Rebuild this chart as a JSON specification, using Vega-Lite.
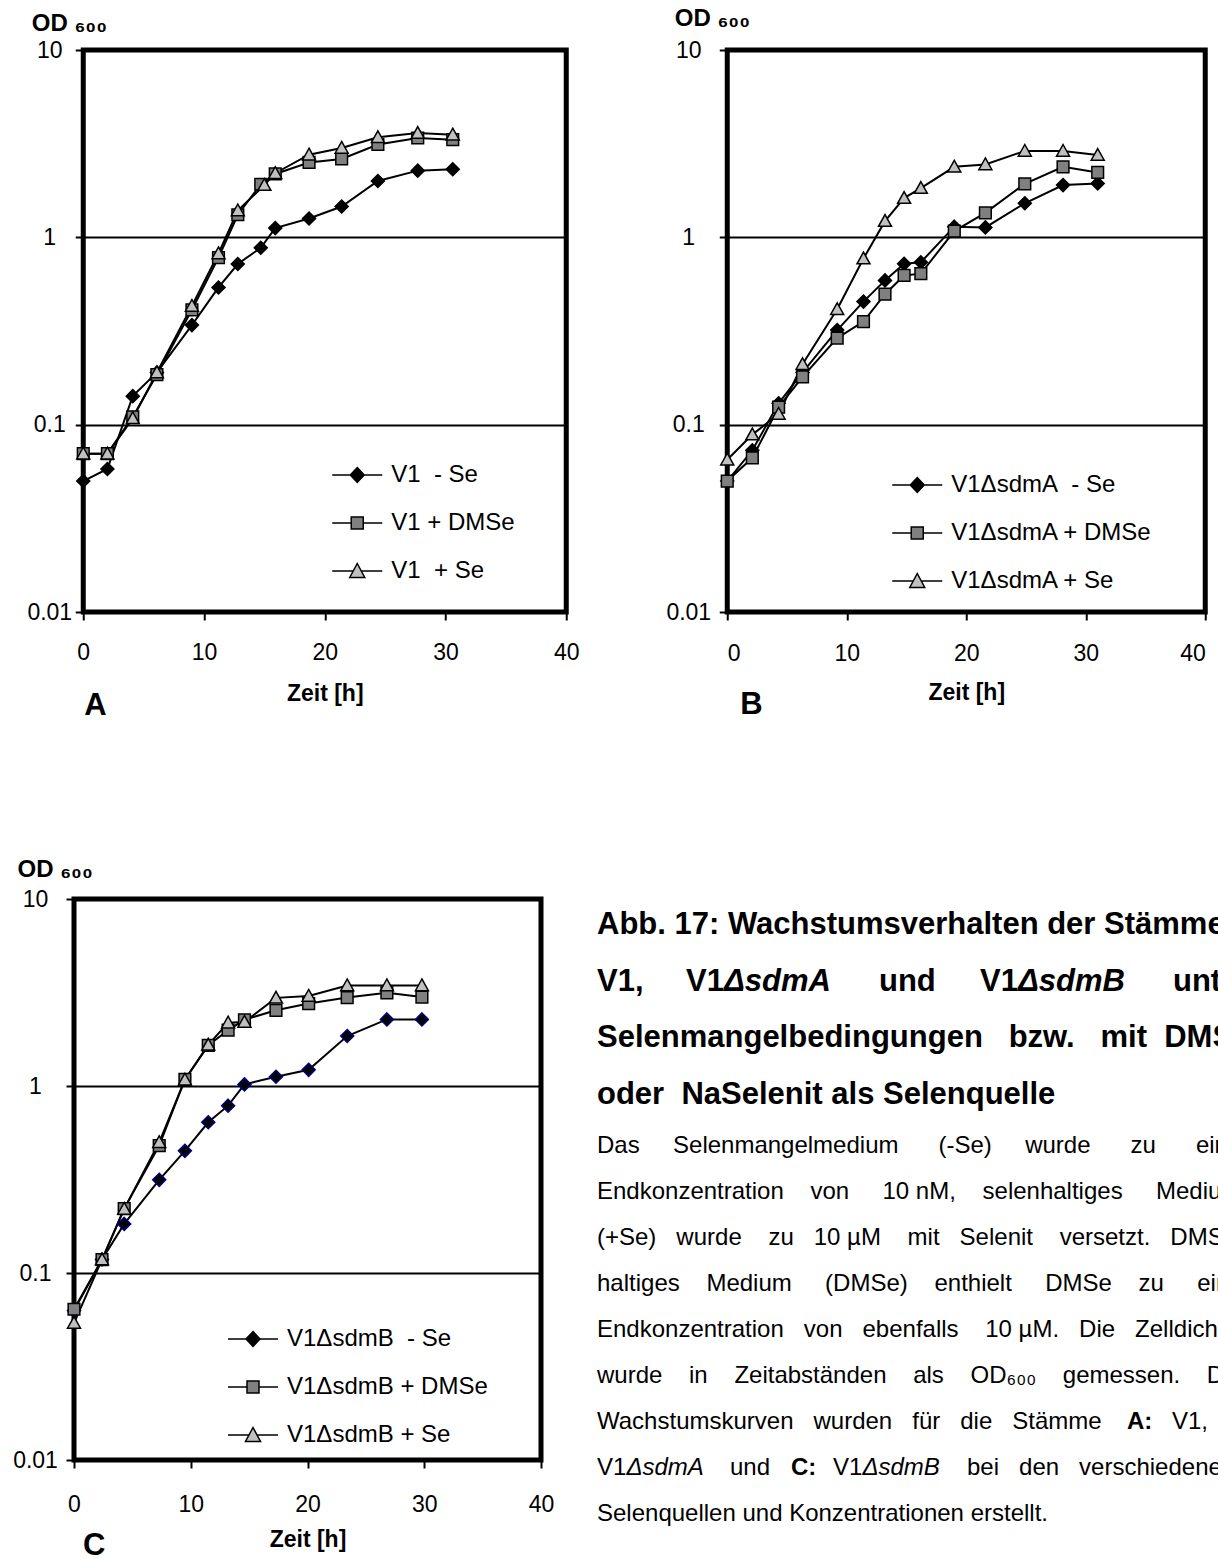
{
  "$schema": "https://vega.github.io/schema/vega-lite/v6.json",
  "background": "white",
  "padding": {"left": 10, "top": 3, "right": 0, "bottom": 0},
  "config": {
    "font": "Liberation Sans",
    "view": {"stroke": null},
    "axis": {"labelFont": "Liberation Sans", "labelColor": "black", "titleFont": "Liberation Sans", "titleColor": "black", "tickColor": "black", "tickWidth": 2, "domain": false, "labelFlush": false},
    "legend": {"labelFont": "Liberation Sans", "labelColor": "black", "direction": "vertical", "title": null, "labelFontSize": 24, "labelLimit": 400, "labelOffset": 8, "symbolSize": 2500, "rowPadding": 10, "padding": 0}
  },
  "datasets": {
    "A": [
      {"t": 0, "od": 0.05, "s": "V1\u00a0 - Se"}, {"t": 2, "od": 0.058, "s": "V1\u00a0 - Se"}, {"t": 4.1, "od": 0.142, "s": "V1\u00a0 - Se"}, {"t": 6.1, "od": 0.19, "s": "V1\u00a0 - Se"}, {"t": 9, "od": 0.34, "s": "V1\u00a0 - Se"}, {"t": 11.2, "od": 0.54, "s": "V1\u00a0 - Se"}, {"t": 12.8, "od": 0.72, "s": "V1\u00a0 - Se"}, {"t": 14.7, "od": 0.88, "s": "V1\u00a0 - Se"}, {"t": 15.9, "od": 1.12, "s": "V1\u00a0 - Se"}, {"t": 18.7, "od": 1.26, "s": "V1\u00a0 - Se"}, {"t": 21.4, "od": 1.46, "s": "V1\u00a0 - Se"}, {"t": 24.4, "od": 2.0, "s": "V1\u00a0 - Se"}, {"t": 27.7, "od": 2.27, "s": "V1\u00a0 - Se"}, {"t": 30.6, "od": 2.31, "s": "V1\u00a0 - Se"},
      {"t": 0, "od": 0.07, "s": "V1 + DMSe"}, {"t": 2, "od": 0.07, "s": "V1 + DMSe"}, {"t": 4.1, "od": 0.11, "s": "V1 + DMSe"}, {"t": 6.1, "od": 0.185, "s": "V1 + DMSe"}, {"t": 9, "od": 0.41, "s": "V1 + DMSe"}, {"t": 11.2, "od": 0.78, "s": "V1 + DMSe"}, {"t": 12.8, "od": 1.32, "s": "V1 + DMSe"}, {"t": 14.7, "od": 1.92, "s": "V1 + DMSe"}, {"t": 15.9, "od": 2.18, "s": "V1 + DMSe"}, {"t": 18.7, "od": 2.51, "s": "V1 + DMSe"}, {"t": 21.4, "od": 2.62, "s": "V1 + DMSe"}, {"t": 24.4, "od": 3.13, "s": "V1 + DMSe"}, {"t": 27.7, "od": 3.39, "s": "V1 + DMSe"}, {"t": 30.6, "od": 3.32, "s": "V1 + DMSe"},
      {"t": 0, "od": 0.07, "s": "V1\u00a0 + Se"}, {"t": 2, "od": 0.07, "s": "V1\u00a0 + Se"}, {"t": 4.1, "od": 0.108, "s": "V1\u00a0 + Se"}, {"t": 6.1, "od": 0.19, "s": "V1\u00a0 + Se"}, {"t": 9, "od": 0.43, "s": "V1\u00a0 + Se"}, {"t": 11.2, "od": 0.82, "s": "V1\u00a0 + Se"}, {"t": 12.8, "od": 1.39, "s": "V1\u00a0 + Se"}, {"t": 15.0, "od": 1.9, "s": "V1\u00a0 + Se"}, {"t": 15.9, "od": 2.2, "s": "V1\u00a0 + Se"}, {"t": 18.7, "od": 2.76, "s": "V1\u00a0 + Se"}, {"t": 21.4, "od": 3.0, "s": "V1\u00a0 + Se"}, {"t": 24.4, "od": 3.42, "s": "V1\u00a0 + Se"}, {"t": 27.7, "od": 3.6, "s": "V1\u00a0 + Se"}, {"t": 30.6, "od": 3.53, "s": "V1\u00a0 + Se"}
    ],
    "B": [
      {"t": 0, "od": 0.05, "s": "V1ΔsdmA\u00a0 - Se"}, {"t": 2.1, "od": 0.073, "s": "V1ΔsdmA\u00a0 - Se"}, {"t": 4.3, "od": 0.13, "s": "V1ΔsdmA\u00a0 - Se"}, {"t": 6.3, "od": 0.19, "s": "V1ΔsdmA\u00a0 - Se"}, {"t": 9.2, "od": 0.32, "s": "V1ΔsdmA\u00a0 - Se"}, {"t": 11.4, "od": 0.454, "s": "V1ΔsdmA\u00a0 - Se"}, {"t": 13.2, "od": 0.589, "s": "V1ΔsdmA\u00a0 - Se"}, {"t": 14.8, "od": 0.722, "s": "V1ΔsdmA\u00a0 - Se"}, {"t": 16.2, "od": 0.736, "s": "V1ΔsdmA\u00a0 - Se"}, {"t": 19.0, "od": 1.14, "s": "V1ΔsdmA\u00a0 - Se"}, {"t": 21.6, "od": 1.13, "s": "V1ΔsdmA\u00a0 - Se"}, {"t": 24.9, "od": 1.52, "s": "V1ΔsdmA\u00a0 - Se"}, {"t": 28.1, "od": 1.9, "s": "V1ΔsdmA\u00a0 - Se"}, {"t": 31.0, "od": 1.94, "s": "V1ΔsdmA\u00a0 - Se"},
      {"t": 0, "od": 0.05, "s": "V1ΔsdmA + DMSe"}, {"t": 2.1, "od": 0.0665, "s": "V1ΔsdmA + DMSe"}, {"t": 4.3, "od": 0.124, "s": "V1ΔsdmA + DMSe"}, {"t": 6.3, "od": 0.18, "s": "V1ΔsdmA + DMSe"}, {"t": 9.2, "od": 0.29, "s": "V1ΔsdmA + DMSe"}, {"t": 11.4, "od": 0.355, "s": "V1ΔsdmA + DMSe"}, {"t": 13.2, "od": 0.497, "s": "V1ΔsdmA + DMSe"}, {"t": 14.8, "od": 0.626, "s": "V1ΔsdmA + DMSe"}, {"t": 16.2, "od": 0.64, "s": "V1ΔsdmA + DMSe"}, {"t": 19.0, "od": 1.08, "s": "V1ΔsdmA + DMSe"}, {"t": 21.6, "od": 1.35, "s": "V1ΔsdmA + DMSe"}, {"t": 24.9, "od": 1.93, "s": "V1ΔsdmA + DMSe"}, {"t": 28.1, "od": 2.38, "s": "V1ΔsdmA + DMSe"}, {"t": 31.0, "od": 2.22, "s": "V1ΔsdmA + DMSe"},
      {"t": 0, "od": 0.065, "s": "V1ΔsdmA + Se"}, {"t": 2.1, "od": 0.0885, "s": "V1ΔsdmA + Se"}, {"t": 4.3, "od": 0.114, "s": "V1ΔsdmA + Se"}, {"t": 6.3, "od": 0.21, "s": "V1ΔsdmA + Se"}, {"t": 9.2, "od": 0.413, "s": "V1ΔsdmA + Se"}, {"t": 11.4, "od": 0.77, "s": "V1ΔsdmA + Se"}, {"t": 13.2, "od": 1.22, "s": "V1ΔsdmA + Se"}, {"t": 14.8, "od": 1.62, "s": "V1ΔsdmA + Se"}, {"t": 16.2, "od": 1.83, "s": "V1ΔsdmA + Se"}, {"t": 19.0, "od": 2.38, "s": "V1ΔsdmA + Se"}, {"t": 21.6, "od": 2.45, "s": "V1ΔsdmA + Se"}, {"t": 24.9, "od": 2.89, "s": "V1ΔsdmA + Se"}, {"t": 28.1, "od": 2.89, "s": "V1ΔsdmA + Se"}, {"t": 31.0, "od": 2.75, "s": "V1ΔsdmA + Se"}
    ],
    "C": [
      {"t": 0, "od": 0.063, "s": "V1ΔsdmB\u00a0 - Se"}, {"t": 2.4, "od": 0.118, "s": "V1ΔsdmB\u00a0 - Se"}, {"t": 4.3, "od": 0.183, "s": "V1ΔsdmB\u00a0 - Se"}, {"t": 7.3, "od": 0.315, "s": "V1ΔsdmB\u00a0 - Se"}, {"t": 9.5, "od": 0.45, "s": "V1ΔsdmB\u00a0 - Se"}, {"t": 11.5, "od": 0.64, "s": "V1ΔsdmB\u00a0 - Se"}, {"t": 13.2, "od": 0.785, "s": "V1ΔsdmB\u00a0 - Se"}, {"t": 14.6, "od": 1.02, "s": "V1ΔsdmB\u00a0 - Se"}, {"t": 17.3, "od": 1.12, "s": "V1ΔsdmB\u00a0 - Se"}, {"t": 20.1, "od": 1.22, "s": "V1ΔsdmB\u00a0 - Se"}, {"t": 23.4, "od": 1.85, "s": "V1ΔsdmB\u00a0 - Se"}, {"t": 26.8, "od": 2.27, "s": "V1ΔsdmB\u00a0 - Se"}, {"t": 29.8, "od": 2.27, "s": "V1ΔsdmB\u00a0 - Se"},
      {"t": 0, "od": 0.064, "s": "V1ΔsdmB + DMSe"}, {"t": 2.4, "od": 0.118, "s": "V1ΔsdmB + DMSe"}, {"t": 4.3, "od": 0.221, "s": "V1ΔsdmB + DMSe"}, {"t": 7.3, "od": 0.48, "s": "V1ΔsdmB + DMSe"}, {"t": 9.5, "od": 1.085, "s": "V1ΔsdmB + DMSe"}, {"t": 11.5, "od": 1.65, "s": "V1ΔsdmB + DMSe"}, {"t": 13.2, "od": 1.99, "s": "V1ΔsdmB + DMSe"}, {"t": 14.6, "od": 2.26, "s": "V1ΔsdmB + DMSe"}, {"t": 17.3, "od": 2.54, "s": "V1ΔsdmB + DMSe"}, {"t": 20.1, "od": 2.76, "s": "V1ΔsdmB + DMSe"}, {"t": 23.4, "od": 2.97, "s": "V1ΔsdmB + DMSe"}, {"t": 26.8, "od": 3.15, "s": "V1ΔsdmB + DMSe"}, {"t": 29.8, "od": 2.99, "s": "V1ΔsdmB + DMSe"},
      {"t": 0, "od": 0.054, "s": "V1ΔsdmB + Se"}, {"t": 2.4, "od": 0.118, "s": "V1ΔsdmB + Se"}, {"t": 4.3, "od": 0.22, "s": "V1ΔsdmB + Se"}, {"t": 7.3, "od": 0.5, "s": "V1ΔsdmB + Se"}, {"t": 9.5, "od": 1.08, "s": "V1ΔsdmB + Se"}, {"t": 11.5, "od": 1.66, "s": "V1ΔsdmB + Se"}, {"t": 13.2, "od": 2.18, "s": "V1ΔsdmB + Se"}, {"t": 14.6, "od": 2.2, "s": "V1ΔsdmB + Se"}, {"t": 17.3, "od": 2.96, "s": "V1ΔsdmB + Se"}, {"t": 20.1, "od": 3.03, "s": "V1ΔsdmB + Se"}, {"t": 23.4, "od": 3.45, "s": "V1ΔsdmB + Se"}, {"t": 26.8, "od": 3.45, "s": "V1ΔsdmB + Se"}, {"t": 29.8, "od": 3.45, "s": "V1ΔsdmB + Se"}
    ]
  },
  "vconcat": [
    {
      "hconcat": [
        {
          "width": 483, "height": 562,
          "view": {"stroke": "black", "strokeWidth": 5},
          "data": {"name": "A"},
          "title": {"text": "A", "orient": "bottom", "anchor": "start", "frame": "group", "font": "Liberation Sans", "fontSize": 31, "fontWeight": "bold", "color": "black", "offset": -14, "dx": 1},
          "encoding": {
            "x": {"field": "t", "type": "quantitative", "scale": {"domain": [0, 40], "nice": false, "zero": false},
              "axis": {"values": [0, 10, 20, 30, 40], "grid": false, "tickSize": 8, "labelFontSize": 23, "labelPadding": 21, "title": "Zeit [h]", "titleFontSize": 23, "titleFontWeight": "bold", "titlePadding": 18}},
            "y": {"field": "od", "type": "quantitative", "scale": {"type": "log", "domain": [0.01, 10], "nice": false},
              "axis": {"values": [0.01, 0.1, 1, 10], "format": "~g", "grid": true, "gridColor": "black", "gridWidth": 2, "gridOpacity": 1, "tickSize": 8, "labelAlign": "center", "labelBaseline": "middle", "labelPadding": 26, "labelFontSize": 23, "title": "OD ₆₀₀", "titleAngle": 0, "titleAlign": "left", "titleBaseline": "alphabetic", "titleX": -52, "titleY": -20, "titleFontSize": 24, "titleFontWeight": "bold"}}
          },
          "layer": [
            {"mark": {"type": "line", "color": "black", "strokeWidth": 2}, "encoding": {"detail": {"field": "s"}}},
            {"mark": {"type": "point", "filled": true, "size": 169, "stroke": "black", "strokeWidth": 1.5, "opacity": 1},
              "encoding": {
                "shape": {"field": "s", "scale": {"domain": ["V1\u00a0 - Se", "V1 + DMSe", "V1\u00a0 + Se"], "range": ["M0,-1L1,0L0,1L-1,0Z", "M-0.9,-0.9H0.9V0.9H-0.9Z", "M0,-1L1,0.8H-1Z"]}, "legend": null},
                "fill": {"field": "s", "scale": {"domain": ["V1\u00a0 - Se", "V1 + DMSe", "V1\u00a0 + Se"], "range": ["black", "#808080", "#c0c0c0"]}, "legend": null}
              }},
            {"transform": [{"filter": "false"}],
              "mark": {"type": "point", "filled": true, "stroke": "black", "strokeWidth": 2, "opacity": 1},
              "encoding": {
                "shape": {"field": "s", "scale": {"domain": ["V1\u00a0 - Se", "V1 + DMSe", "V1\u00a0 + Se"], "range": ["M-1,0H-0.28M0.28,0H1M0,-0.3L0.28,0L0,0.3L-0.28,0Z", "M-1,0H-0.24M0.24,0H1M-0.24,-0.24H0.24V0.24H-0.24Z", "M-1,0H-0.15M0.15,0H1M0,-0.3L0.3,0.26H-0.3Z"]},
                  "legend": {"orient": "none", "legendX": 248, "legendY": 399, "encode": {"symbols": {"update": {"stroke": {"value": "black"}, "strokeWidth": {"value": 2}, "opacity": {"value": 1}}}}}},
                "fill": {"field": "s", "scale": {"domain": ["V1\u00a0 - Se", "V1 + DMSe", "V1\u00a0 + Se"], "range": ["black", "#808080", "#c0c0c0"]},
                  "legend": {"orient": "none", "legendX": 248, "legendY": 399, "encode": {"symbols": {"update": {"stroke": {"value": "black"}, "strokeWidth": {"value": 2}, "opacity": {"value": 1}}}}}}
              }}
          ],
          "resolve": {"scale": {"shape": "independent", "fill": "independent"}}
        },
        {
          "width": 478, "height": 562,
          "view": {"stroke": "black", "strokeWidth": 5},
          "data": {"name": "B"},
          "title": {"text": "B", "orient": "bottom", "anchor": "start", "frame": "group", "font": "Liberation Sans", "fontSize": 31, "fontWeight": "bold", "color": "black", "offset": -14, "dx": 13},
          "encoding": {
            "x": {"field": "t", "type": "quantitative", "scale": {"domain": [0, 40], "nice": false, "zero": false},
              "axis": {"values": [0, 10, 20, 30, 40], "grid": false, "tickSize": 8, "labelFontSize": 23, "labelPadding": 22, "labelFlush": true, "labelFlushOffset": 0, "title": "Zeit [h]", "titleFontSize": 23, "titleFontWeight": "bold", "titlePadding": 16}},
            "y": {"field": "od", "type": "quantitative", "scale": {"type": "log", "domain": [0.01, 10], "nice": false},
              "axis": {"values": [0.01, 0.1, 1, 10], "format": "~g", "grid": true, "gridColor": "black", "gridWidth": 2, "gridOpacity": 1, "tickSize": 8, "labelAlign": "center", "labelBaseline": "middle", "labelPadding": 31, "labelFontSize": 23, "title": "OD ₆₀₀", "titleAngle": 0, "titleAlign": "left", "titleBaseline": "alphabetic", "titleX": -53, "titleY": -25, "titleFontSize": 24, "titleFontWeight": "bold"}}
          },
          "layer": [
            {"mark": {"type": "line", "color": "black", "strokeWidth": 2}, "encoding": {"detail": {"field": "s"}}},
            {"mark": {"type": "point", "filled": true, "size": 169, "stroke": "black", "strokeWidth": 1.5, "opacity": 1},
              "encoding": {
                "shape": {"field": "s", "scale": {"domain": ["V1ΔsdmA\u00a0 - Se", "V1ΔsdmA + DMSe", "V1ΔsdmA + Se"], "range": ["M0,-1L1,0L0,1L-1,0Z", "M-0.9,-0.9H0.9V0.9H-0.9Z", "M0,-1L1,0.8H-1Z"]}, "legend": null},
                "fill": {"field": "s", "scale": {"domain": ["V1ΔsdmA\u00a0 - Se", "V1ΔsdmA + DMSe", "V1ΔsdmA + Se"], "range": ["black", "#808080", "#c0c0c0"]}, "legend": null}
              }},
            {"transform": [{"filter": "false"}],
              "mark": {"type": "point", "filled": true, "stroke": "black", "strokeWidth": 2, "opacity": 1},
              "encoding": {
                "shape": {"field": "s", "scale": {"domain": ["V1ΔsdmA\u00a0 - Se", "V1ΔsdmA + DMSe", "V1ΔsdmA + Se"], "range": ["M-1,0H-0.28M0.28,0H1M0,-0.3L0.28,0L0,0.3L-0.28,0Z", "M-1,0H-0.24M0.24,0H1M-0.24,-0.24H0.24V0.24H-0.24Z", "M-1,0H-0.15M0.15,0H1M0,-0.3L0.3,0.26H-0.3Z"]},
                  "legend": {"orient": "none", "legendX": 164, "legendY": 409, "encode": {"symbols": {"update": {"stroke": {"value": "black"}, "strokeWidth": {"value": 2}, "opacity": {"value": 1}}}}}},
                "fill": {"field": "s", "scale": {"domain": ["V1ΔsdmA\u00a0 - Se", "V1ΔsdmA + DMSe", "V1ΔsdmA + Se"], "range": ["black", "#808080", "#c0c0c0"]},
                  "legend": {"orient": "none", "legendX": 164, "legendY": 409, "encode": {"symbols": {"update": {"stroke": {"value": "black"}, "strokeWidth": {"value": 2}, "opacity": {"value": 1}}}}}}
              }}
          ],
          "resolve": {"scale": {"shape": "independent", "fill": "independent"}}
        }
      ],
      "spacing": 81,
      "bounds": "full"
    },
    {
      "hconcat": [
        {
          "width": 467, "height": 561,
          "view": {"stroke": "black", "strokeWidth": 5},
          "data": {"name": "C"},
          "title": {"text": "C", "orient": "bottom", "anchor": "start", "frame": "group", "font": "Liberation Sans", "fontSize": 31, "fontWeight": "bold", "color": "black", "offset": -20, "dx": 9},
          "encoding": {
            "x": {"field": "t", "type": "quantitative", "scale": {"domain": [0, 40], "nice": false, "zero": false},
              "axis": {"values": [0, 10, 20, 30, 40], "grid": false, "tickSize": 8, "labelFontSize": 23, "labelPadding": 25, "title": "Zeit [h]", "titleFontSize": 23, "titleFontWeight": "bold", "titlePadding": 12}},
            "y": {"field": "od", "type": "quantitative", "scale": {"type": "log", "domain": [0.01, 10], "nice": false},
              "axis": {"values": [0.01, 0.1, 1, 10], "format": "~g", "grid": true, "gridColor": "black", "gridWidth": 2, "gridOpacity": 1, "tickSize": 8, "labelAlign": "center", "labelBaseline": "middle", "labelPadding": 31, "labelFontSize": 23, "title": "OD ₆₀₀", "titleAngle": 0, "titleAlign": "left", "titleBaseline": "alphabetic", "titleX": -57, "titleY": -23, "titleFontSize": 24, "titleFontWeight": "bold"}}
          },
          "layer": [
            {"mark": {"type": "line", "color": "black", "strokeWidth": 2}, "encoding": {"detail": {"field": "s"}}},
            {"mark": {"type": "point", "filled": true, "size": 169, "strokeWidth": 1.5, "opacity": 1},
              "encoding": {
                "shape": {"field": "s", "scale": {"domain": ["V1ΔsdmB\u00a0 - Se", "V1ΔsdmB + DMSe", "V1ΔsdmB + Se"], "range": ["M0,-1L1,0L0,1L-1,0Z", "M-0.9,-0.9H0.9V0.9H-0.9Z", "M0,-1L1,0.8H-1Z"]}, "legend": null},
                "fill": {"field": "s", "scale": {"domain": ["V1ΔsdmB\u00a0 - Se", "V1ΔsdmB + DMSe", "V1ΔsdmB + Se"], "range": ["black", "#808080", "#c0c0c0"]}, "legend": null},
                "stroke": {"field": "s", "scale": {"domain": ["V1ΔsdmB\u00a0 - Se", "V1ΔsdmB + DMSe", "V1ΔsdmB + Se"], "range": ["#000080", "black", "black"]}, "legend": null}
              }},
            {"transform": [{"filter": "false"}],
              "mark": {"type": "point", "filled": true, "stroke": "black", "strokeWidth": 2, "opacity": 1},
              "encoding": {
                "shape": {"field": "s", "scale": {"domain": ["V1ΔsdmB\u00a0 - Se", "V1ΔsdmB + DMSe", "V1ΔsdmB + Se"], "range": ["M-1,0H-0.28M0.28,0H1M0,-0.3L0.28,0L0,0.3L-0.28,0Z", "M-1,0H-0.24M0.24,0H1M-0.24,-0.24H0.24V0.24H-0.24Z", "M-1,0H-0.15M0.15,0H1M0,-0.3L0.3,0.26H-0.3Z"]},
                  "legend": {"orient": "none", "legendX": 153, "legendY": 414, "encode": {"symbols": {"update": {"stroke": {"value": "black"}, "strokeWidth": {"value": 2}, "opacity": {"value": 1}}}}}},
                "fill": {"field": "s", "scale": {"domain": ["V1ΔsdmB\u00a0 - Se", "V1ΔsdmB + DMSe", "V1ΔsdmB + Se"], "range": ["black", "#808080", "#c0c0c0"]},
                  "legend": {"orient": "none", "legendX": 153, "legendY": 414, "encode": {"symbols": {"update": {"stroke": {"value": "black"}, "strokeWidth": {"value": 2}, "opacity": {"value": 1}}}}}}
              }}
          ],
          "resolve": {"scale": {"shape": "independent", "fill": "independent", "stroke": "independent"}}
        },
        {
          "width": 621, "height": 640,
          "layer": [
            {"data": {"values": [{}]}, "mark": {"type": "text", "clip": true, "x": 0, "y": 35, "align": "left", "baseline": "alphabetic", "font": "Liberation Sans", "fontSize": 31, "fontWeight": "bold", "color": "black", "lineHeight": 56.5,
              "text": ["Abb. 17: Wachstumsverhalten der Stämme", "V1,", "Selenmangelbedingungen\u00a0\u00a0\u00a0bzw.\u00a0\u00a0\u00a0mit\u00a0\u00a0DMSe", "oder\u00a0\u00a0NaSelenit als Selenquelle"]}},
            {"data": {"values": [{}]}, "mark": {"type": "text", "clip": true, "x": 89, "y": 91.5, "align": "left", "baseline": "alphabetic", "fontSize": 31, "fontWeight": "bold", "color": "black", "text": "V1"}},
            {"data": {"values": [{}]}, "mark": {"type": "text", "clip": true, "x": 127, "y": 91.5, "align": "left", "baseline": "alphabetic", "fontSize": 31, "fontWeight": "bold", "fontStyle": "italic", "color": "black", "text": "ΔsdmA"}},
            {"data": {"values": [{}]}, "mark": {"type": "text", "clip": true, "x": 282, "y": 91.5, "align": "left", "baseline": "alphabetic", "fontSize": 31, "fontWeight": "bold", "color": "black", "text": "und"}},
            {"data": {"values": [{}]}, "mark": {"type": "text", "clip": true, "x": 383, "y": 91.5, "align": "left", "baseline": "alphabetic", "fontSize": 31, "fontWeight": "bold", "color": "black", "text": "V1"}},
            {"data": {"values": [{}]}, "mark": {"type": "text", "clip": true, "x": 421, "y": 91.5, "align": "left", "baseline": "alphabetic", "fontSize": 31, "fontWeight": "bold", "fontStyle": "italic", "color": "black", "text": "ΔsdmB"}},
            {"data": {"values": [{}]}, "mark": {"type": "text", "clip": true, "x": 576, "y": 91.5, "align": "left", "baseline": "alphabetic", "fontSize": 31, "fontWeight": "bold", "color": "black", "text": "unter"}},
            {"data": {"values": [{}]}, "mark": {"type": "text", "clip": true, "x": 0, "y": 254, "align": "left", "baseline": "alphabetic", "fontSize": 24, "color": "black", "lineHeight": 46,
              "text": [
                "Das\u00a0\u00a0\u00a0\u00a0\u00a0Selenmangelmedium\u00a0\u00a0\u00a0\u00a0\u00a0\u00a0(-Se)\u00a0\u00a0\u00a0\u00a0\u00a0wurde\u00a0\u00a0\u00a0\u00a0\u00a0\u00a0zu\u00a0\u00a0\u00a0\u00a0\u00a0\u00a0einer",
                "Endkonzentration\u00a0\u00a0\u00a0\u00a0von\u00a0\u00a0\u00a0\u00a0\u00a010\u00a0nM,\u00a0\u00a0\u00a0\u00a0selenhaltiges\u00a0\u00a0\u00a0\u00a0\u00a0Medium",
                "(+Se)\u00a0\u00a0\u00a0wurde\u00a0\u00a0\u00a0\u00a0zu\u00a0\u00a0\u00a010\u00a0µM\u00a0\u00a0\u00a0\u00a0mit\u00a0\u00a0\u00a0Selenit\u00a0\u00a0\u00a0\u00a0versetzt.\u00a0\u00a0\u00a0DMSe-",
                "haltiges\u00a0\u00a0\u00a0\u00a0Medium\u00a0\u00a0\u00a0\u00a0\u00a0(DMSe)\u00a0\u00a0\u00a0\u00a0enthielt\u00a0\u00a0\u00a0\u00a0\u00a0DMSe\u00a0\u00a0\u00a0\u00a0zu\u00a0\u00a0\u00a0\u00a0\u00a0einer",
                "Endkonzentration\u00a0\u00a0\u00a0von\u00a0\u00a0\u00a0ebenfalls\u00a0\u00a0\u00a0\u00a010\u00a0µM.\u00a0\u00a0\u00a0Die\u00a0\u00a0\u00a0Zelldichte",
                "wurde\u00a0\u00a0\u00a0\u00a0in\u00a0\u00a0\u00a0\u00a0Zeitabständen\u00a0\u00a0\u00a0\u00a0als\u00a0\u00a0\u00a0\u00a0OD₆₀₀\u00a0\u00a0\u00a0\u00a0gemessen.\u00a0\u00a0\u00a0\u00a0Die",
                "Wachstumskurven\u00a0\u00a0\u00a0wurden\u00a0\u00a0\u00a0für\u00a0\u00a0\u00a0die\u00a0\u00a0\u00a0Stämme",
                "V1",
                "Selenquellen und Konzentrationen erstellt."
              ]}},
            {"data": {"values": [{}]}, "mark": {"type": "text", "clip": true, "x": 530, "y": 530, "align": "left", "baseline": "alphabetic", "fontSize": 24, "fontWeight": "bold", "color": "black", "text": "A:"}},
            {"data": {"values": [{}]}, "mark": {"type": "text", "clip": true, "x": 575, "y": 530, "align": "left", "baseline": "alphabetic", "fontSize": 24, "color": "black", "text": "V1,"}},
            {"data": {"values": [{}]}, "mark": {"type": "text", "clip": true, "x": 29.4, "y": 576, "align": "left", "baseline": "alphabetic", "fontSize": 24, "fontStyle": "italic", "color": "black", "text": "ΔsdmA"}},
            {"data": {"values": [{}]}, "mark": {"type": "text", "clip": true, "x": 133, "y": 576, "align": "left", "baseline": "alphabetic", "fontSize": 24, "color": "black", "text": "und"}},
            {"data": {"values": [{}]}, "mark": {"type": "text", "clip": true, "x": 194, "y": 576, "align": "left", "baseline": "alphabetic", "fontSize": 24, "fontWeight": "bold", "color": "black", "text": "C:"}},
            {"data": {"values": [{}]}, "mark": {"type": "text", "clip": true, "x": 236, "y": 576, "align": "left", "baseline": "alphabetic", "fontSize": 24, "color": "black", "text": "V1"}},
            {"data": {"values": [{}]}, "mark": {"type": "text", "clip": true, "x": 265.4, "y": 576, "align": "left", "baseline": "alphabetic", "fontSize": 24, "fontStyle": "italic", "color": "black", "text": "ΔsdmB"}},
            {"data": {"values": [{}]}, "mark": {"type": "text", "clip": true, "x": 370, "y": 576, "align": "left", "baseline": "alphabetic", "fontSize": 24, "color": "black", "text": "bei\u00a0\u00a0\u00a0den\u00a0\u00a0\u00a0verschiedenen"}}
          ]
        }
      ],
      "spacing": 40,
      "bounds": "full"
    }
  ],
  "spacing": 130,
  "center": true
}
